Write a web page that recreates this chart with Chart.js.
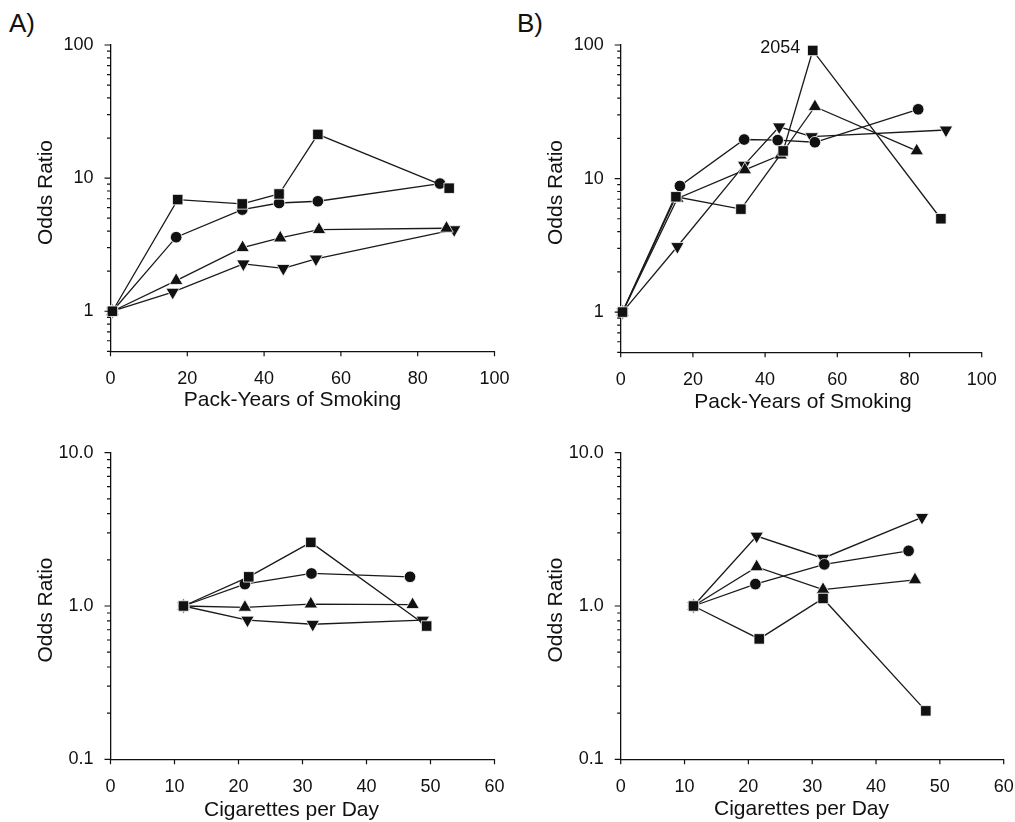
<!DOCTYPE html>
<html>
<head>
<meta charset="utf-8">
<script src="https://cdn.jsdelivr.net/npm/chart.js@4.4.1/dist/chart.umd.min.js"></script>
<style>
  body { margin: 0; background: #fff; font-family: 'Liberation Sans', Arial, sans-serif; }
  #fig { position: relative; width: 1015px; height: 822px; }
  .panel { position: absolute; }
  .tag { position: absolute; font-size: 26px; line-height: 26px; color: #111; }
</style>
</head>
<body>
<div id="fig">
  <div class="tag" style="left:9px;top:10px">A)</div>
  <div class="tag" style="left:517px;top:10px">B)</div>
  <div class="panel" style="left:0;top:0"><canvas id="aPack" width="510" height="414"></canvas></div>
  <div class="panel" style="left:510px;top:0"><canvas id="bPack" width="505" height="414"></canvas></div>
  <div class="panel" style="left:0;top:414px"><canvas id="aCig" width="510" height="408"></canvas></div>
  <div class="panel" style="left:510px;top:414px"><canvas id="bCig" width="505" height="408"></canvas></div>
</div>
<script>
// tick labels
const packYearTicks = [0, 20, 40, 60, 80, 100];
const cigTicks = [0, 10, 20, 30, 40, 50, 60];
const oddsPackMajor = [1, 10, 100];
const oddsPackLabels = ['1', '10', '100'];
const oddsCigMajor = [0.1, 1, 10];
const oddsCigLabels = ['0.1', '1.0', '10.0'];

// A) pack-years of smoking
const aPackSquareX = [0.5, 17.5, 34.3, 43.9, 54.0, 88.2];
const aPackSquareY = [1, 6.9, 6.4, 7.6, 21.3, 8.4];
const aPackCircleX = [0.5, 17.1, 34.3, 43.9, 54.0, 85.8];
const aPackCircleY = [1, 3.6, 5.8, 6.5, 6.7, 9.1];
const aPackUpX = [0.5, 17.1, 34.4, 44.2, 54.3, 87.5];
const aPackUpY = [1, 1.7, 3.0, 3.55, 4.1, 4.2];
const aPackDownX = [0.5, 16.2, 34.6, 45.0, 53.5, 89.5];
const aPackDownY = [1, 1.39, 2.27, 2.1, 2.47, 4.1];

// B) pack-years of smoking (square at 53 is off scale, OR = 2054)
const bPackSquareX = [0.5, 15.3, 33.3, 45.0, 53.2, 88.7];
const bPackSquareY = [1, 7.3, 5.9, 16.1, 91, 5.0];
const bPackCircleX = [0.5, 16.4, 34.2, 43.5, 53.8, 82.4];
const bPackCircleY = [1, 8.8, 19.6, 19.4, 18.7, 33];
const bPackUpX = [0.5, 15.7, 34.4, 44.3, 53.8, 82.0];
const bPackUpY = [1, 7.1, 11.6, 15.0, 34.5, 16.1];
const bPackDownX = [0.5, 15.7, 34.2, 43.9, 52.9, 90.1];
const bPackDownY = [1, 3.1, 12.6, 24.4, 20.6, 23.1];

// A) cigarettes per day
const aCigSquareX = [11.4, 21.6, 31.3, 49.4];
const aCigSquareY = [1, 1.55, 2.6, 0.74];
const aCigCircleX = [11.4, 21.0, 31.4, 46.8];
const aCigCircleY = [1, 1.39, 1.63, 1.55];
const aCigUpX = [11.4, 21.0, 31.3, 47.2];
const aCigUpY = [1, 0.98, 1.03, 1.02];
const aCigDownX = [11.4, 21.4, 31.6, 48.8];
const aCigDownY = [1, 0.81, 0.76, 0.81];

// B) cigarettes per day
const bCigSquareX = [11.4, 21.7, 31.7, 47.8];
const bCigSquareY = [1, 0.61, 1.12, 0.207];
const bCigCircleX = [11.4, 21.1, 31.9, 45.1];
const bCigCircleY = [1, 1.39, 1.87, 2.29];
const bCigUpX = [11.4, 21.3, 31.7, 46.1];
const bCigUpY = [1, 1.8, 1.28, 1.48];
const bCigDownX = [11.4, 21.3, 31.7, 47.2];
const bCigDownY = [1, 2.86, 2.05, 3.79];

const FONT = "'Liberation Sans', Arial, sans-serif";
const INK = '#111';
Chart.defaults.font.family = FONT;
Chart.defaults.color = INK;

// 1..9 in every decade between lo and hi
function logTicks(lo, hi) {
  const out = [];
  for (let d = 0.01; d <= hi; d *= 10) {
    for (let m = 1; m < 10; m++) {
      const v = +(m * d).toPrecision(3);
      if (v >= lo - 1e-9 && v <= hi + 1e-9) out.push(v);
    }
  }
  return out;
}

// minor/major tick marks, axis titles and the off-scale note
const axisDecor = {
  id: 'axisDecor',
  afterDraw(chart, args, o) {
    const { ctx, scales: { x, y } } = chart;
    ctx.save();
    ctx.strokeStyle = INK;
    ctx.lineWidth = 1.2;
    ctx.beginPath();
    y.ticks.forEach(t => {
      const py = y.getPixelForValue(t.value);
      const len = t.label ? 6 : 3.5;
      ctx.moveTo(y.right, py);
      ctx.lineTo(y.right - len, py);
    });
    x.ticks.forEach(t => {
      const px = x.getPixelForValue(t.value);
      ctx.moveTo(px, x.top);
      ctx.lineTo(px, x.top + 5);
    });
    ctx.stroke();

    ctx.fillStyle = INK;
    ctx.textAlign = 'center';
    ctx.textBaseline = 'middle';
    ctx.font = '21px ' + FONT;
    ctx.fillText(o.xTitle, o.xAt[0], o.xAt[1]);
    ctx.save();
    ctx.translate(o.yAt[0], o.yAt[1]);
    ctx.rotate(-Math.PI / 2);
    ctx.fillText(o.yTitle, 0, 0);
    ctx.restore();

    if (o.note) {
      const pt = chart.getDatasetMeta(o.note.ds).data[o.note.i];
      ctx.font = '18px ' + FONT;
      ctx.textAlign = 'right';
      ctx.fillText(o.note.text, pt.x - 12.5, pt.y - 2);
    }
    ctx.restore();
  }
};

function series(xs, ys, style) {
  const shapes = {
    square: { pointStyle: 'rect', pointRadius: 7.4, pointRotation: 0 },
    circle: { pointStyle: 'circle', pointRadius: 5.8, pointRotation: 0 },
    up: { pointStyle: 'triangle', pointRadius: 7.8, pointRotation: 0 },
    down: { pointStyle: 'triangle', pointRadius: 7.8, pointRotation: 180 }
  };
  return Object.assign({
    data: xs.map((v, i) => ({ x: v, y: ys[i] })),
    showLine: true,
    borderColor: '#1a1a1a',
    borderWidth: 1.3,
    pointBackgroundColor: INK,
    pointBorderColor: '#fff',
    pointBorderWidth: 0.8,
    clip: false
  }, shapes[style]);
}

function makeChart(id, c) {
  const yTicks = logTicks(c.yMin, c.yMax);
  new Chart(document.getElementById(id), {
    type: 'scatter',
    data: { datasets: c.datasets },
    plugins: [axisDecor],
    options: {
      responsive: false,
      animation: false,
      events: [],
      layout: { padding: { top: c.padTop, right: c.padRight, left: 0, bottom: 0 } },
      plugins: {
        legend: { display: false },
        tooltip: { enabled: false },
        axisDecor: { xTitle: c.xTitle, xAt: c.xAt, yTitle: 'Odds Ratio', yAt: c.yAt, note: c.note }
      },
      scales: {
        x: {
          type: 'linear', min: 0, max: c.xTicks[c.xTicks.length - 1],
          grid: { display: false },
          border: { display: true, color: INK, width: 1.3 },
          ticks: { autoSkip: false, maxRotation: 0, padding: 9, color: INK, font: { size: 18 } },
          afterBuildTicks: s => { s.ticks = c.xTicks.map(v => ({ value: v })); },
          afterFit: s => { s.height = c.xHeight; s.paddingLeft = 0; s.paddingRight = 0; }
        },
        y: {
          type: 'logarithmic', min: c.yMin, max: c.yMax,
          grid: { display: false },
          border: { display: true, color: INK, width: 1.3 },
          ticks: {
            autoSkip: false, padding: 9, color: INK, font: { size: 18 },
            callback: v => {
              const k = c.yMajor.findIndex(m => Math.abs(m - v) < m * 1e-6);
              return k >= 0 ? c.yLabels[k] : '';
            }
          },
          afterBuildTicks: s => { s.ticks = yTicks.map(v => ({ value: v })); },
          afterFit: s => { s.width = c.yWidth; s.paddingTop = 0; s.paddingBottom = 0; }
        }
      }
    }
  });
}

makeChart('aPack', {
  datasets: [
    series(aPackSquareX, aPackSquareY, 'square'),
    series(aPackCircleX, aPackCircleY, 'circle'),
    series(aPackUpX, aPackUpY, 'up'),
    series(aPackDownX, aPackDownY, 'down')
  ],
  xTicks: packYearTicks, yMin: 0.5, yMax: 100, yMajor: oddsPackMajor, yLabels: oddsPackLabels,
  padTop: 45, padRight: 15.5, yWidth: 110.5, xHeight: 62.7,
  xTitle: 'Pack-Years of Smoking', xAt: [292.5, 400.5], yAt: [46, 192.5]
});

makeChart('bPack', {
  datasets: [
    series(bPackSquareX, bPackSquareY, 'square'),
    series(bPackCircleX, bPackCircleY, 'circle'),
    series(bPackUpX, bPackUpY, 'up'),
    series(bPackDownX, bPackDownY, 'down')
  ],
  xTicks: packYearTicks, yMin: 0.5, yMax: 100, yMajor: oddsPackMajor, yLabels: oddsPackLabels,
  padTop: 45, padRight: 33.3, yWidth: 110.7, xHeight: 61.7,
  xTitle: 'Pack-Years of Smoking', xAt: [293, 402], yAt: [46, 192.5],
  note: { ds: 0, i: 4, text: '2054' }
});

makeChart('aCig', {
  datasets: [
    series(aCigSquareX, aCigSquareY, 'square'),
    series(aCigCircleX, aCigCircleY, 'circle'),
    series(aCigUpX, aCigUpY, 'up'),
    series(aCigDownX, aCigDownY, 'down')
  ],
  xTicks: cigTicks, yMin: 0.1, yMax: 10, yMajor: oddsCigMajor, yLabels: oddsCigLabels,
  padTop: 38.7, padRight: 15.5, yWidth: 110.5, xHeight: 62.7,
  xTitle: 'Cigarettes per Day', xAt: [291.5, 396.5], yAt: [46, 196]
});

makeChart('bCig', {
  datasets: [
    series(bCigSquareX, bCigSquareY, 'square'),
    series(bCigCircleX, bCigCircleY, 'circle'),
    series(bCigUpX, bCigUpY, 'up'),
    series(bCigDownX, bCigDownY, 'down')
  ],
  xTicks: cigTicks, yMin: 0.1, yMax: 10, yMajor: oddsCigMajor, yLabels: oddsCigLabels,
  padTop: 38.7, padRight: 11.3, yWidth: 110.7, xHeight: 62.7,
  xTitle: 'Cigarettes per Day', xAt: [291.5, 395], yAt: [46, 196]
});
</script>
</body>
</html>
